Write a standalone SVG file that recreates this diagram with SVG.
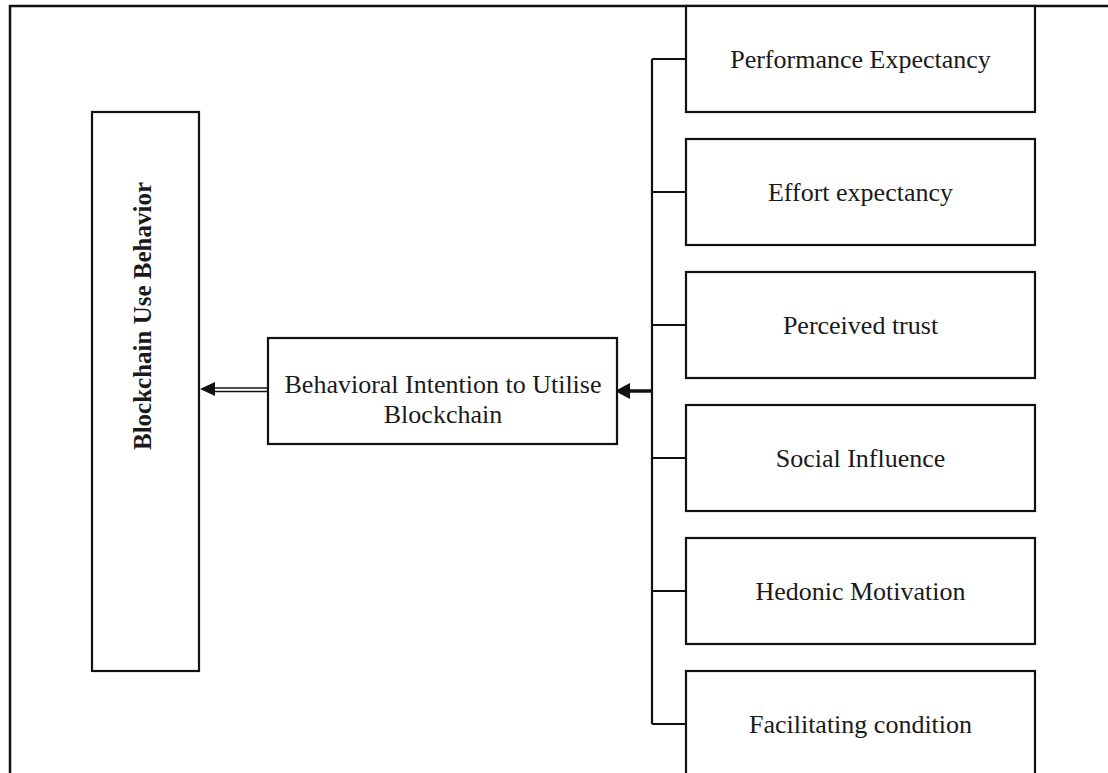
<svg xmlns="http://www.w3.org/2000/svg" width="1108" height="773" viewBox="0 0 1108 773">
<style>
.box{fill:#fff;stroke:#111;stroke-width:2.2}
.lbl{font-family:"Liberation Serif","Times New Roman",serif;font-size:26px;fill:#1a1a1a;text-anchor:middle}
.bold{font-weight:bold;font-size:25px}
.ln{stroke:#111;stroke-width:2.2;fill:none}
.frame{stroke:#111;stroke-width:2.5;fill:none}
</style>
<defs>
<marker id="head" markerUnits="userSpaceOnUse" markerWidth="16" markerHeight="16" refX="15" refY="8" orient="auto">
<path d="M0,0 L15,8 L0,16 Z" fill="#111"/>
</marker>
</defs>
<rect width="1108" height="773" fill="#fff"/>
<g id="frame">
<path class="frame" d="M10,773 V6 H1108"/>
</g>
<g id="connectors">
<path class="ln" d="M652,59 V724"/>
<path class="ln" d="M652,59 H686 M652,192 H686 M652,325 H686 M652,458 H686 M652,591 H686 M652,724 H686"/>
<line x1="652" y1="391" x2="630" y2="391" stroke="#111" stroke-width="3.5"/>
<polygon points="615,391 630,383 630,399" fill="#111"/>
<line x1="268" y1="388" x2="212" y2="388" stroke="#111" stroke-width="1.6"/>
<line x1="268" y1="391.5" x2="212" y2="391.5" stroke="#111" stroke-width="1.6"/>
<polygon points="200,389 215,382 215,396" fill="#111"/>
</g>
<g id="use-behavior">
<rect class="box" x="92" y="112" width="107" height="559"/>
<text class="lbl bold" transform="translate(151,316) rotate(-90)">Blockchain Use Behavior</text>
</g>
<g id="intention">
<rect class="box" x="268" y="338" width="349" height="106"/>
<text class="lbl" x="443" y="393">Behavioral Intention to Utilise</text>
<text class="lbl" x="443" y="423">Blockchain</text>
</g>
<g id="performance">
<rect class="box" x="686" y="6" width="349" height="106"/>
<text class="lbl" x="860.5" y="68">Performance Expectancy</text>
</g>
<g id="effort">
<rect class="box" x="686" y="139" width="349" height="106"/>
<text class="lbl" x="860.5" y="201">Effort expectancy</text>
</g>
<g id="trust">
<rect class="box" x="686" y="272" width="349" height="106"/>
<text class="lbl" x="860.5" y="334">Perceived trust</text>
</g>
<g id="social">
<rect class="box" x="686" y="405" width="349" height="106"/>
<text class="lbl" x="860.5" y="467">Social Influence</text>
</g>
<g id="hedonic">
<rect class="box" x="686" y="538" width="349" height="106"/>
<text class="lbl" x="860.5" y="600">Hedonic Motivation</text>
</g>
<g id="facilitating">
<rect class="box" x="686" y="671" width="349" height="110"/>
<text class="lbl" x="860.5" y="733">Facilitating condition</text>
</g>
</svg>
